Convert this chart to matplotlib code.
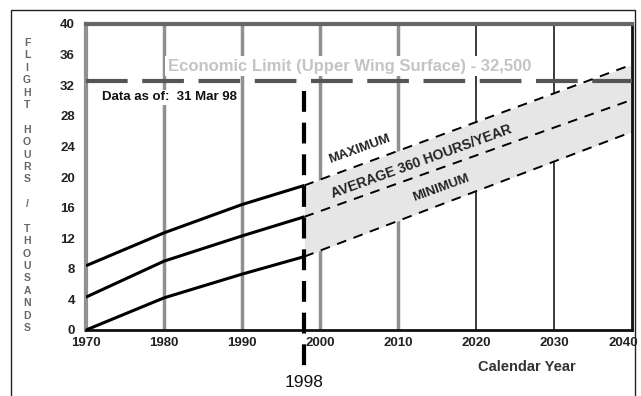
import matplotlib.pyplot as plt
import matplotlib.transforms as mtransforms
from matplotlib.patches import Rectangle

plt.rcParams['font.family'] = ['Liberation Sans', 'DejaVu Sans']

# historical flight hours (thousands)
years_hist = [1970, 1980, 1990, 1998]
max_hist = [8.4, 12.7, 16.4, 18.9]
avg_hist = [4.3, 9.0, 12.3, 14.8]
min_hist = [0.0, 4.2, 7.3, 9.6]

# projection
years_proj = [1998, 2040]
max_proj = [18.9, 34.7]
avg_proj = [14.8, 30.1]
min_proj = [9.6, 25.9]

econ_limit = 32.5
data_date = 1998
x_ticks = [1970, 1980, 1990, 2000, 2010, 2020, 2030, 2040]
y_ticks = [0, 4, 8, 12, 16, 20, 24, 28, 32, 36, 40]
ylabel_chars = list("FLIGHT") + [" "] + list("HOURS") + [" ", "/", " "] + list("THOUSANDS")

W, H = 641, 396
fig = plt.figure(figsize=(W / 100, H / 100), dpi=100)
ax = fig.add_axes([86 / W, 1 - 330 / H, (632 - 86) / W, (330 - 24) / H])

# outer frame
fig.patches.append(Rectangle((11 / W, -0.05), 624 / W, 1.05 - 10 / H,
                             transform=fig.transFigure, fill=False,
                             ec='#222222', lw=1))

ax.set_xlim(1970, 2040)
ax.set_ylim(0, 40)

# vertical grid
for yr in x_ticks[1:-1]:
    if yr >= 2020:
        ax.axvline(yr, color='#3a3a3a', lw=1.4, zorder=1)
    else:
        ax.axvline(yr, color='#909090', lw=2.5, zorder=1)

# projection band
ax.fill_between(years_proj, min_proj, max_proj, color='#e6e6e6', lw=0, zorder=2)

for ys in (max_hist, avg_hist, min_hist):
    ax.plot(years_hist, ys, color='black', lw=2.2, zorder=4, solid_capstyle='butt')
for ys in (max_proj, avg_proj, min_proj):
    ax.plot(years_proj, ys, color='black', lw=1.4, ls=(0, (5, 4)), zorder=4)

# economic limit
ax.axhline(econ_limit, color='#555555', lw=3, ls=(0, (10, 3.5)), zorder=3)
ax.text(2003.8, 34.5, 'Economic Limit (Upper Wing Surface) - 32,500',
        ha='center', va='center', fontsize=12, fontweight='bold', color='#c4c4c4',
        zorder=3, bbox=dict(boxstyle='square,pad=0.15', fc='white', ec='none'))
ax.text(1972, 30.4, 'Data as of:  31 Mar 98', ha='left', va='center',
        fontsize=9.5, fontweight='bold', color='#111111', zorder=3,
        bbox=dict(boxstyle='square,pad=0.1', fc='white', ec='none'))

# data date line
ax.plot([data_date, data_date], [31.3, -5.6], color='black', lw=3,
        ls=(0, (5, 2.6)), clip_on=False, zorder=5)
ax.text(data_date, -6.8, '1998', ha='center', va='center', fontsize=12.5,
        color='#111111', clip_on=False)

# band labels
ax.text(2005, 23.6, 'MAXIMUM', rotation=20, ha='center', va='center',
        fontsize=9.5, fontweight='bold', color='#222222', zorder=6)
ax.text(2013, 22.0, 'AVERAGE 360 HOURS/YEAR', rotation=20, ha='center', va='center',
        fontsize=10, fontweight='bold', color='#222222', zorder=6)
ax.text(2015.5, 18.5, 'MINIMUM', rotation=20, ha='center', va='center',
        fontsize=9.5, fontweight='bold', color='#222222', zorder=6)

# spines
ax.spines['top'].set_color('#666666')
ax.spines['top'].set_linewidth(3)
ax.spines['left'].set_color('#909090')
ax.spines['left'].set_linewidth(3)
ax.spines['bottom'].set_color('#111111')
ax.spines['bottom'].set_linewidth(2)
ax.spines['right'].set_color('#111111')
ax.spines['right'].set_linewidth(2)

ax.set_xticks(x_ticks)
ax.set_xticklabels([str(t) for t in x_ticks])
ax.set_yticks(y_ticks)
ax.set_yticklabels([str(t) for t in y_ticks])
ax.tick_params(length=0, labelsize=9.5, colors='#222222')
ax.tick_params(axis='x', pad=5)
ax.tick_params(axis='y', pad=8)
for lbl in ax.get_xticklabels() + ax.get_yticklabels():
    lbl.set_fontweight('bold')
# keep the last year label inside the picture
last = ax.get_xticklabels()[-1]
last.set_transform(last.get_transform() +
                   mtransforms.ScaledTranslation(-9 / 100, 0, fig.dpi_scale_trans))

fig.text(527 / W, 1 - 367 / H, 'Calendar Year', ha='center', va='center',
         fontsize=10.5, fontweight='bold', color='#333333')

# stacked y label
top, bottom = 43, 328
step = (bottom - top) / (len(ylabel_chars) - 1)
for i, ch in enumerate(ylabel_chars):
    fig.text(27 / W, 1 - (top + i * step) / H, ch, ha='center', va='center',
             fontsize=7.5, fontweight='bold', color='#666666')

fig.savefig('out.png', dpi=100)
